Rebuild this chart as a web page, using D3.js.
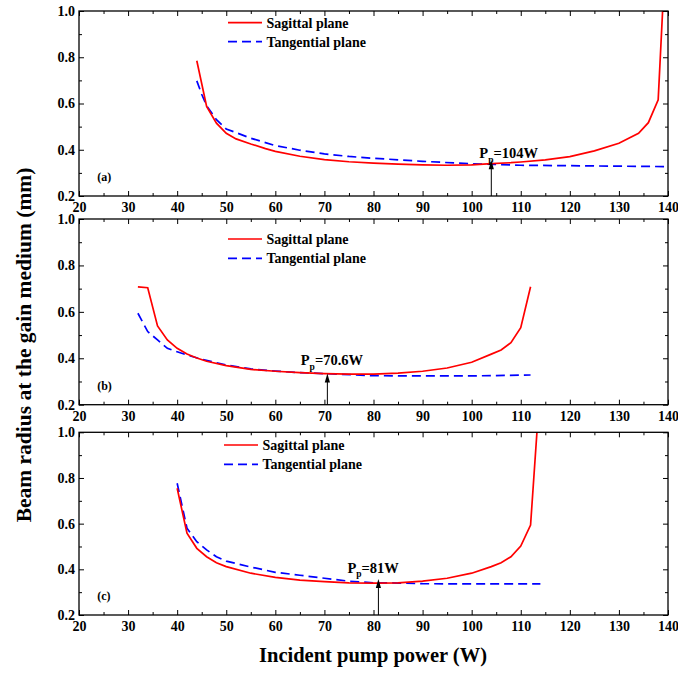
<!DOCTYPE html>
<html>
<head>
<meta charset="utf-8">
<script src="https://cdn.jsdelivr.net/npm/d3@7/dist/d3.min.js"></script>
<style>
  html, body { margin: 0; padding: 0; background: #fff; }
  svg { display: block; }
  text { font-family: "Times New Roman", "Liberation Serif", serif; font-weight: bold; fill: #000; }
</style>
</head>
<body>
<svg id="chart" width="678" height="673"></svg>
<script>
// ---- data ----
const xTicks = [20, 30, 40, 50, 60, 70, 80, 90, 100, 110, 120, 130, 140];
const xMinorTicks = [25, 35, 45, 55, 65, 75, 85, 95, 105, 115, 125, 135];
const yTicks = [0.2, 0.4, 0.6, 0.8, 1.0];
const yMinorTicks = [0.3, 0.5, 0.7, 0.9];
const panelLabels = ["(a)", "(b)", "(c)"];
const seriesNames = ["Sagittal plane", "Tangential plane"];

// panel (a)
const powerSagA = [44, 46, 48, 50, 52, 55, 58, 60, 65, 70, 75, 80, 85, 90, 95, 100, 104, 108, 110, 115, 120, 125, 130, 132, 134, 136, 138, 140];
const radiusSagA = [0.785, 0.587, 0.515, 0.471, 0.447, 0.425, 0.405, 0.393, 0.372, 0.357, 0.348, 0.342, 0.338, 0.335, 0.333, 0.335, 0.340, 0.344, 0.347, 0.356, 0.370, 0.395, 0.428, 0.450, 0.471, 0.517, 0.616, 1.47];
const powerTanA = [44, 45, 46, 48, 50, 55, 60, 65, 70, 75, 80, 90, 100, 104, 110, 120, 130, 140];
const radiusTanA = [0.698, 0.640, 0.590, 0.530, 0.490, 0.450, 0.418, 0.398, 0.382, 0.371, 0.363, 0.350, 0.339, 0.337, 0.333, 0.331, 0.329, 0.327];

// panel (b)
const powerSagB = [32, 34, 36, 38, 40, 42, 44, 46, 50, 55, 60, 65, 70, 75, 80, 85, 90, 95, 100, 104, 106, 108, 110, 112];
const radiusSagB = [0.708, 0.704, 0.539, 0.479, 0.443, 0.418, 0.401, 0.387, 0.368, 0.352, 0.344, 0.338, 0.334, 0.332, 0.332, 0.336, 0.344, 0.358, 0.383, 0.418, 0.436, 0.467, 0.532, 0.708];
const powerTanB = [32, 34, 36, 38, 40, 42, 45, 50, 55, 60, 65, 70, 80, 90, 100, 112];
const radiusTanB = [0.594, 0.515, 0.479, 0.443, 0.428, 0.414, 0.396, 0.371, 0.354, 0.345, 0.338, 0.334, 0.325, 0.324, 0.324, 0.328];

// panel (c)
const powerSagC = [40, 42, 44, 46, 48, 50, 55, 60, 65, 70, 75, 80, 85, 90, 95, 100, 104, 106, 108, 110, 112, 114];
const radiusSagC = [0.755, 0.558, 0.492, 0.455, 0.429, 0.412, 0.383, 0.365, 0.353, 0.346, 0.341, 0.340, 0.341, 0.348, 0.361, 0.383, 0.412, 0.429, 0.455, 0.502, 0.594, 1.22];
const powerTanC = [40, 42, 44, 46, 48, 50, 55, 60, 65, 70, 75, 80, 85, 90, 100, 114];
const radiusTanC = [0.777, 0.580, 0.521, 0.485, 0.455, 0.436, 0.410, 0.387, 0.374, 0.361, 0.348, 0.341, 0.340, 0.337, 0.336, 0.336];

// crossing points of the two planes
const crossPower = [104, 70.6, 81];
const crossRadius = [0.355, 0.334, 0.358];
const crossLabels = ["=104W", "=70.6W", "=81W"];

// ---- layout ----
const W = 678, H = 673;
const left = 79, right = 668;
const panelBox = [
  { top: 11, bottom: 196, legendX: 228, legendY: 22.7, legendGap: 19, labelDx: -12, labelY: 158.3 },
  { top: 219, bottom: 404.7, legendX: 228, legendY: 239, legendGap: 19.3, labelDx: -26.6, labelY: 365 },
  { top: 432.3, bottom: 615, legendX: 224, legendY: 445, legendGap: 19.3, labelDx: -31, labelY: 572.5 }
];
const sagData = [[powerSagA, radiusSagA], [powerSagB, radiusSagB], [powerSagC, radiusSagC]];
const tanData = [[powerTanA, radiusTanA], [powerTanB, radiusTanB], [powerTanC, radiusTanC]];

const RED = "#ff0000", BLUE = "#0000ff";
const svg = d3.select("#chart");

const x = d3.scaleLinear().domain([20, 140]).range([left, right]);
const fmtY = d3.format(".1f");

panelBox.forEach((p, i) => {
  const y = d3.scaleLinear().domain([0.2, 1.0]).range([p.bottom, p.top]);
  const g = svg.append("g");

  // clip for curves leaving the frame
  const clipId = "clip" + i;
  svg.append("clipPath").attr("id", clipId)
    .append("rect").attr("x", left).attr("y", p.top)
    .attr("width", right - left).attr("height", p.bottom - p.top);

  const line = d3.line().x(d => x(d[0])).y(d => y(d[1]));
  const zip = (xs, ys) => xs.map((v, k) => [v, ys[k]]);

  // tangential (dashed blue)
  g.append("path")
    .attr("clip-path", `url(#${clipId})`)
    .attr("d", line(zip(tanData[i][0], tanData[i][1])))
    .attr("fill", "none").attr("stroke", BLUE).attr("stroke-width", 1.7)
    .attr("stroke-dasharray", "9,5");

  // sagittal (solid red)
  g.append("path")
    .attr("clip-path", `url(#${clipId})`)
    .attr("d", line(zip(sagData[i][0], sagData[i][1])))
    .attr("fill", "none").attr("stroke", RED).attr("stroke-width", 1.7);

  // axes with inward ticks
  const axStyle = sel => {
    sel.select(".domain").remove();
    sel.selectAll("line").attr("stroke", "#000").attr("stroke-width", 1);
    sel.selectAll("text").style("font-size", "14px").attr("fill", "#000");
  };

  g.append("g").attr("transform", `translate(0,${p.bottom})`)
    .call(d3.axisBottom(x).tickValues(xTicks).tickSizeInner(-5).tickSizeOuter(0).tickPadding(6).tickFormat(d3.format("d")))
    .call(axStyle);
  g.append("g").attr("transform", `translate(0,${p.bottom})`)
    .call(d3.axisBottom(x).tickValues(xMinorTicks).tickSizeInner(-3).tickSizeOuter(0).tickFormat(""))
    .call(axStyle);
  g.append("g").attr("transform", `translate(0,${p.top})`)
    .call(d3.axisTop(x).tickValues(xTicks).tickSizeInner(-5).tickSizeOuter(0).tickFormat(""))
    .call(axStyle);
  g.append("g").attr("transform", `translate(0,${p.top})`)
    .call(d3.axisTop(x).tickValues(xMinorTicks).tickSizeInner(-3).tickSizeOuter(0).tickFormat(""))
    .call(axStyle);
  g.append("g").attr("transform", `translate(${left},0)`)
    .call(d3.axisLeft(y).tickValues(yTicks).tickSizeInner(-5).tickSizeOuter(0).tickPadding(4).tickFormat(fmtY))
    .call(axStyle);
  g.append("g").attr("transform", `translate(${left},0)`)
    .call(d3.axisLeft(y).tickValues(yMinorTicks).tickSizeInner(-3).tickSizeOuter(0).tickFormat(""))
    .call(axStyle);
  g.append("g").attr("transform", `translate(${right},0)`)
    .call(d3.axisRight(y).tickValues(yTicks).tickSizeInner(-5).tickSizeOuter(0).tickFormat(""))
    .call(axStyle);
  g.append("g").attr("transform", `translate(${right},0)`)
    .call(d3.axisRight(y).tickValues(yMinorTicks).tickSizeInner(-3).tickSizeOuter(0).tickFormat(""))
    .call(axStyle);

  // frame
  g.append("rect")
    .attr("x", left).attr("y", p.top)
    .attr("width", right - left).attr("height", p.bottom - p.top)
    .attr("fill", "none").attr("stroke", "#000").attr("stroke-width", 1.3);

  // panel tag
  g.append("text").attr("x", x(23.7)).attr("y", p.bottom - 15)
    .style("font-size", "12px").text(panelLabels[i]);

  // legend
  const lg = g.append("g");
  [RED, BLUE].forEach((c, k) => {
    const ly = p.legendY + k * p.legendGap;
    lg.append("line")
      .attr("x1", p.legendX).attr("x2", p.legendX + 34)
      .attr("y1", ly).attr("y2", ly)
      .attr("stroke", c).attr("stroke-width", 1.7)
      .attr("stroke-dasharray", k === 1 ? "9,5" : null);
    lg.append("text")
      .attr("x", p.legendX + 38.5).attr("y", ly + 5)
      .style("font-size", "14px").text(seriesNames[k]);
  });

  // crossing-point arrow
  const ax = x(crossPower[i]);
  const tipY = y(crossRadius[i]);
  g.append("line")
    .attr("x1", ax).attr("x2", ax)
    .attr("y1", y(0.2)).attr("y2", tipY + 6)
    .attr("stroke", "#000").attr("stroke-width", 1);
  g.append("path")
    .attr("d", `M${ax},${tipY} L${ax - 2.6},${tipY + 9} L${ax + 2.6},${tipY + 9} Z`)
    .attr("fill", "#000");

  // crossing-point label
  const t = g.append("text")
    .attr("x", ax + p.labelDx).attr("y", p.labelY)
    .style("font-size", "14.5px");
  t.append("tspan").text("P");
  t.append("tspan").attr("dy", 4.5).style("font-size", "9.5px").text("p");
  t.append("tspan").attr("dy", -4.5).text(crossLabels[i]);
});

// axis titles
svg.append("text")
  .attr("transform", "translate(31,345) rotate(-90)")
  .attr("text-anchor", "middle")
  .style("font-size", "21.5px")
  .text("Beam radius at the gain medium (mm)");

svg.append("text")
  .attr("x", 373).attr("y", 662)
  .attr("text-anchor", "middle")
  .style("font-size", "20.5px")
  .text("Incident pump power (W)");
</script>
</body>
</html>
